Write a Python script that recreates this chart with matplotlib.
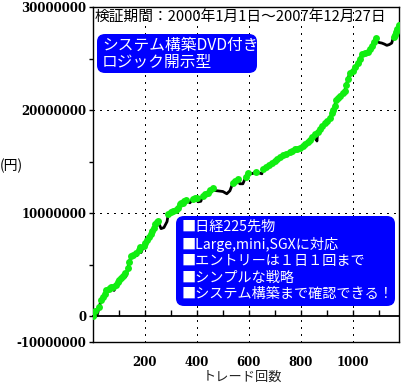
import numpy as np
import matplotlib
matplotlib.use("Agg")
import matplotlib.pyplot as plt
from matplotlib.patches import FancyBboxPatch

plt.rcParams['font.family'] = ['Noto Sans CJK JP', 'DejaVu Sans']

# ---------------------------------------------------------------
# Dados (trade nº, lucro acumulado em milhões de 円)
# ---------------------------------------------------------------
trades = [0, 8, 12, 16, 24, 31, 38, 45, 50, 54, 60, 65, 71, 77, 81, 90, 96, 102,
          108, 115, 123, 127, 135, 140, 146, 155, 165, 169, 177, 182, 185, 196,
          202, 208, 215, 223, 229, 235, 240, 245, 250, 262, 273, 285, 290, 299,
          308, 318, 327, 335, 340, 346, 352, 358, 373, 385, 393, 400, 404, 415,
          423, 432, 442, 452, 462, 469, 485, 500, 515, 527, 538, 548, 558, 565,
          577, 588, 596, 604, 615, 627, 650, 654, 665, 677, 688, 700, 708, 719,
          731, 744, 758, 767, 777, 786, 796, 808, 817, 827, 835, 845, 854, 862,
          865, 873, 882, 892, 902, 912, 919, 925, 931, 935, 942, 950, 962, 969,
          975, 981, 988, 1000, 1010, 1019, 1027, 1035, 1046, 1058, 1065, 1073,
          1080, 1088, 1092, 1102, 1112, 1122, 1131, 1140, 1150, 1154, 1158, 1162,
          1167, 1172, 1178]
profit_m = [0.0, 0.48, 0.0, 0.1, 0.9, 1.55, 1.9, 2.2, 2.5, 2.4, 2.6, 2.75, 2.8,
            2.85, 2.5, 3.0, 3.3, 3.5, 3.7, 3.95, 4.15, 3.86, 4.7, 5.3, 5.8, 5.9,
            6.1, 5.89, 6.4, 6.76, 6.18, 6.86, 7.15, 7.44, 7.7, 8.02, 8.3, 8.6,
            8.9, 9.1, 9.2, 8.5, 8.6, 9.18, 9.95, 10.1, 10.2, 10.35, 10.5, 10.9,
            10.95, 11.0, 11.15, 11.3, 11.0, 11.4, 11.45, 11.5, 11.1, 11.15, 11.7,
            11.85, 12.0, 12.2, 12.4, 12.2, 12.15, 12.1, 11.88, 12.17, 12.9, 13.1,
            13.3, 12.85, 12.85, 13.5, 13.9, 13.82, 13.85, 14.0, 13.82, 14.3, 14.5,
            14.7, 14.9, 15.07, 15.26, 15.45, 15.6, 15.75, 15.94, 16.05, 16.2,
            16.25, 16.33, 16.5, 16.7, 16.9, 17.1, 17.4, 17.7, 17.0, 17.9, 18.2,
            18.45, 18.7, 18.95, 19.2, 19.71, 20.0, 20.39, 21.0, 21.2, 21.4, 21.7,
            21.83, 22.4, 23.0, 23.57, 23.77, 24.2, 24.6, 25.0, 25.4, 25.5, 25.6,
            25.9, 26.2, 26.6, 27.0, 26.67, 26.55, 26.5, 26.4, 26.28, 26.35, 26.5,
            26.86, 27.05, 27.3, 27.6, 27.9, 28.3]

y_ticks = [-2.5e6, 0, 1e7, 2e7, 3e7]
y_tick_labels = ['-10000000', '0', '10000000', '20000000', '30000000']
x_ticks = [200, 400, 600, 800, 1000]

titulo = '検証期間：2000年1月1日～2007年12月27日'
caixa1 = 'システム構築DVD付き\nロジック開示型'
caixa2 = ['■日経225先物', '■Large,mini,SGXに対応', '■エントリーは１日１回まで',
          '■シンプルな戦略', '■システム構築まで確認できる！']

x = np.array(trades, dtype=float)
y = np.array(profit_m) * 1e6
novo_max = y >= np.maximum.accumulate(y)  # pontos verdes = novas máximas

# ---------------------------------------------------------------
# Figura
# ---------------------------------------------------------------
W, H = 406, 385
fig = plt.figure(figsize=(W / 100, H / 100), dpi=100)
ax = fig.add_axes([93 / W, 1 - 342 / H, 306 / W, 335 / H])

ax.plot(x, y, color='black', lw=2, zorder=3)
ax.plot(x[novo_max], y[novo_max], 'o', color='#11ee11', ms=5, mec='none', zorder=4)

ax.set_xlim(0, 1178)
ax.set_ylim(-2.5e6, 3e7)

ax.set_xticks(x_ticks)
ax.set_yticks(y_ticks)
ax.set_yticklabels(y_tick_labels)
ax.set_yticks([5e6, 1.5e7, 2.5e7], minor=True)
serif = dict(family='DejaVu Serif', weight='bold', size=8.5)
for lab in ax.get_xticklabels() + ax.get_yticklabels():
    lab.set_fontproperties(serif)
ax.tick_params(axis='x', length=0, pad=10)
ax.tick_params(axis='y', which='both', direction='out', length=3, pad=1.5, width=1)

# grade pontilhada
for v in x_ticks:
    ax.axvline(v, color='black', lw=1, ls=(0, (1, 4)), antialiased=False, zorder=1)
for v in [1e7, 2e7]:
    ax.axhline(v, color='black', lw=1, ls=(0, (1, 4)), antialiased=False, zorder=1)

for s in ax.spines.values():
    s.set_linewidth(1)

# linha do zero com marcas a cada 100 trades
zero_frac = 2.5e6 / 3.25e7
sec = ax.secondary_xaxis(zero_frac)
sec.set_xticks(np.arange(100, 1101, 100))
sec.tick_params(direction='in', length=4, width=1, labelbottom=False, labeltop=False)
sec.spines['bottom'].set_linewidth(1.3)

fig.text(0.0, 1 - 166 / H, '(円)', fontsize=10, va='center', ha='left')
fig.text(242 / W, 1 - 377 / H, 'トレード回数', fontsize=9.5, ha='center', va='center',
         color='#222222')

ax.text(95 / W, 1 - 17 / H, titulo, transform=fig.transFigure, fontsize=10.6,
        va='center', ha='left')

# caixas azuis
def caixa(x0, y0, x1, y1):
    p = FancyBboxPatch((x0 / W, 1 - y1 / H), (x1 - x0) / W, (y1 - y0) / H,
                       boxstyle='round,pad=0,rounding_size=0.02',
                       transform=fig.transFigure, fc='#0000ff', ec='none', zorder=5)
    fig.add_artist(p)

caixa(97, 34, 257, 73)
fig.text(102 / W, 1 - 54 / H, caixa1, color='white', fontsize=11.3, ha='left',
         va='center', linespacing=1.0, zorder=6)

caixa(176, 216, 395, 306)
y_linhas = [227, 244, 261, 278, 294]
for t, yl in zip(caixa2, y_linhas):
    fig.text(182 / W, 1 - yl / H, t, color='white', fontsize=10.2, ha='left',
             va='center', zorder=6)

fig.savefig('out.png', dpi=100)
